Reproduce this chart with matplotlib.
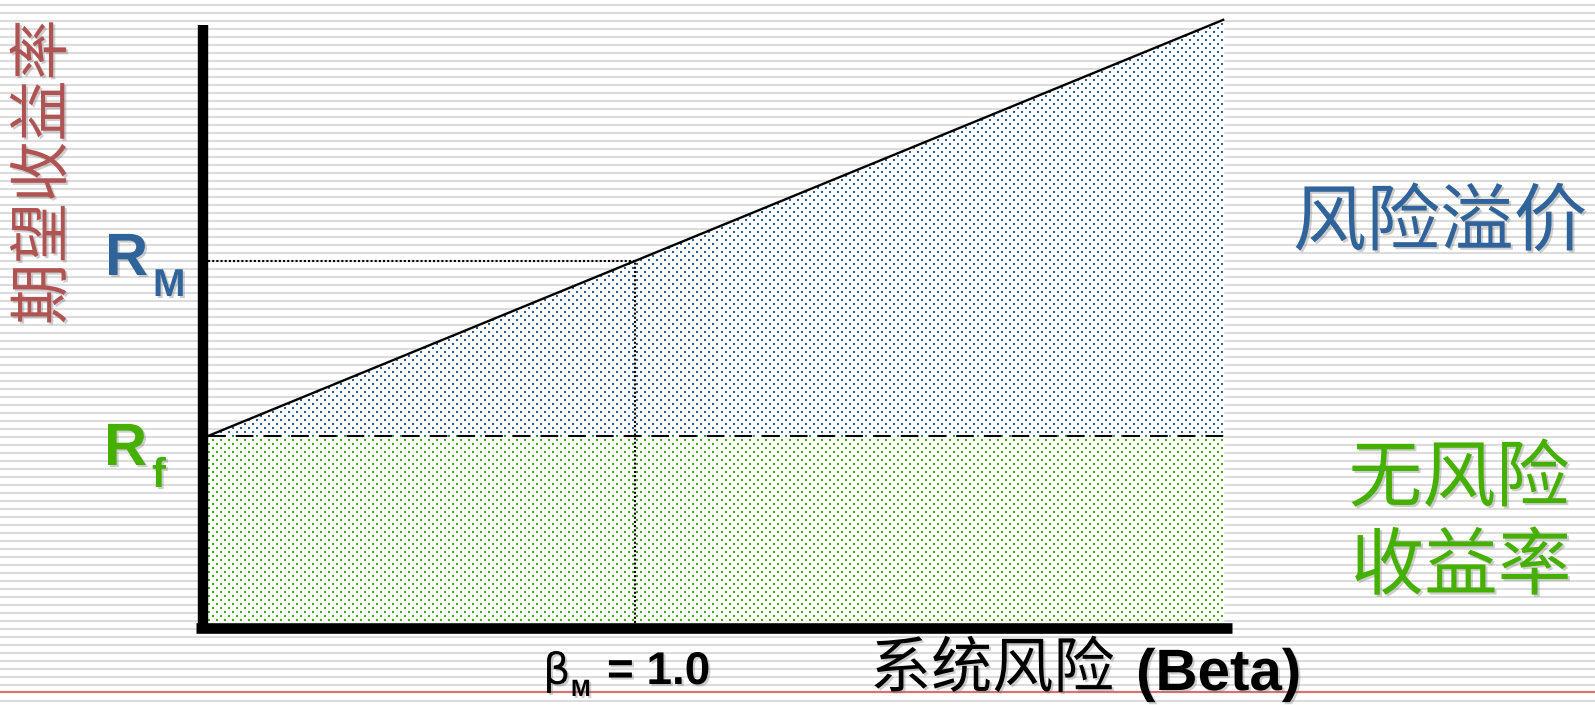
import numpy as np
import matplotlib
matplotlib.use('Agg')
import matplotlib.pyplot as plt
from matplotlib.lines import Line2D
from matplotlib.patches import Polygon
from matplotlib.colors import to_rgb
import matplotlib.patheffects as pe

# ---------------- data ----------------
rf = 5.0          # risk-free rate
rm = 9.68         # market return
beta_m = 1.0      # market beta
beta_end = 2.38   # right end of the SML
beta = np.array([0.0, beta_end])
sml = rf + beta * (rm - rf)

ylabel_text = "期望收益率"
xlabel_cn = "系统风险"
xlabel_en = "(Beta)"
premium_text = "风险溢价"
riskfree_lines = ["无风险", "收益率"]

# ---------------- style ----------------
BLUE = '#2f6399'
GREEN = '#46b000'
DOT_BLUE = '#2c5f96'
DOT_GREEN = '#3fae00'
RED_TXT = '#b05353'
CJK = ['Noto Sans CJK SC', 'DejaVu Sans']
LAT = ['Liberation Sans', 'DejaVu Sans']

W, H = 1595, 705
fig = plt.figure(figsize=(W / 100, H / 100), dpi=100)
fig.patch.set_facecolor('white')

# pixel anchors of the data scale
X0, XS = 208, 427.0
Y0, YS = 623, 37.4
def px2x(px):
    return (px - X0) / XS
def px2y(py):
    return (Y0 - py) / YS

ax = fig.add_axes([0, 0, 1, 1])
ax.patch.set_visible(False)
ax.axis('off')

# background stripes
for py in np.arange(5, H, 8):
    if abs(py - 692) < 3:
        continue
    fig.add_artist(Line2D([0, 1], [1 - py / H] * 2, transform=fig.transFigure,
                          color='#dcdcdc', lw=1.5, zorder=-5))
fig.add_artist(Line2D([0, 1], [1 - 692 / H] * 2, transform=fig.transFigure,
                      color='#d87272', lw=1.6, zorder=-4))

# dotted fill (texture image clipped to the region under the SML)
top = sml[1]
poly = Polygon([[0, 0], [beta_end, 0], [beta_end, sml[1]], [0, sml[0]]],
               closed=True, facecolor='none', edgecolor='none')
ax.add_patch(poly)
nw = int(round(beta_end * XS))
nh = int(round(top * YS))
rr, cc = np.mgrid[0:nh, 0:nw]
dots = ((rr % 4) < 2) & (((cc + 4 * ((rr // 4) % 2)) % 8) < 2)
yrow = top - (rr + 0.5) / YS
img = np.ones((nh, nw, 3))
img[dots & (yrow > rf)] = to_rgb(DOT_BLUE)
img[dots & (yrow <= rf)] = to_rgb(DOT_GREEN)
im = ax.imshow(img, extent=(0, beta_end, 0, top), origin='upper',
               interpolation='nearest', aspect='auto', zorder=1)
im.set_clip_path(poly)

ax.set_xlim(px2x(0), px2x(W))
ax.set_ylim(px2y(H), px2y(0))

# lines
ax.plot(beta, sml, color='black', lw=1.7, zorder=3, solid_capstyle='butt')
ax.plot([0, beta_end], [rf, rf], color='black', lw=1.5, ls=(0, (8.5, 4.8)), zorder=3)
ax.plot([0, beta_m], [rm, rm], color='black', lw=1.5, ls=(0, (1, 1)), zorder=3)
ax.plot([beta_m, beta_m], [0, rm], color='black', lw=1.5, ls=(0, (1, 1)), zorder=3)

# thick axis bars
ax.plot([px2x(203)] * 2, [px2y(25), px2y(628)], color='black', lw=10.4 * 0.72,
        solid_capstyle='butt', zorder=4)
ax.plot([px2x(196), px2x(1232)], [px2y(628)] * 2, color='black', lw=10.6 * 0.72,
        solid_capstyle='butt', zorder=4)

shadow = [pe.withSimplePatchShadow(offset=(1.5, -1.5), shadow_rgbFace='#777777', alpha=0.35)]

# y label
ax.text(px2x(44), px2y(172), ylabel_text, rotation=90, ha='center', va='center',
        fontsize=44, color=RED_TXT, family=CJK, path_effects=shadow, zorder=5)

# R_M
ax.text(px2x(105), px2y(275), 'R', ha='left', va='baseline', fontsize=43,
        weight='bold', color=BLUE, family=LAT, path_effects=shadow, zorder=5)
ax.text(px2x(153), px2y(296), 'M', ha='left', va='baseline', fontsize=28,
        weight='bold', color=BLUE, family=LAT, path_effects=shadow, zorder=5)
# R_f
ax.text(px2x(104), px2y(465), 'R', ha='left', va='baseline', fontsize=43,
        weight='bold', color=GREEN, family=LAT, path_effects=shadow, zorder=5)
ax.text(px2x(152), px2y(487), 'f', ha='left', va='baseline', fontsize=30,
        weight='bold', color=GREEN, family=LAT, path_effects=shadow, zorder=5)

# beta_M = 1.0
ax.text(px2x(543), px2y(684), 'β', ha='left', va='baseline', fontsize=31,
        color='black', family=['DejaVu Sans'], path_effects=shadow, zorder=5)
ax.text(px2x(571), px2y(696), 'M', ha='left', va='baseline', fontsize=17,
        weight='bold', color='black', family=LAT, path_effects=shadow, zorder=5)
ax.text(px2x(607), px2y(684), '= 1.0', ha='left', va='baseline', fontsize=33,
        weight='bold', color='black', family=LAT, path_effects=shadow, zorder=5)

# x label
ax.text(px2x(870), px2y(670), xlabel_cn, ha='left', va='center', fontsize=44,
        color='black', family=CJK, path_effects=shadow, zorder=5)
ax.text(px2x(1136), px2y(690), xlabel_en, ha='left', va='baseline', fontsize=42,
        weight='bold', color='black', family=LAT, path_effects=shadow, zorder=5)

# right annotations
ax.text(px2x(1440), px2y(224), premium_text, ha='center', va='center', fontsize=53,
        color=BLUE, family=CJK, path_effects=shadow, zorder=5)
ax.text(px2x(1459), px2y(480), riskfree_lines[0], ha='center', va='center', fontsize=53,
        color=GREEN, family=CJK, path_effects=shadow, zorder=5)
ax.text(px2x(1461), px2y(568), riskfree_lines[1], ha='center', va='center', fontsize=53,
        color=GREEN, family=CJK, path_effects=shadow, zorder=5)

fig.savefig('out.png', dpi=100, facecolor='white')
